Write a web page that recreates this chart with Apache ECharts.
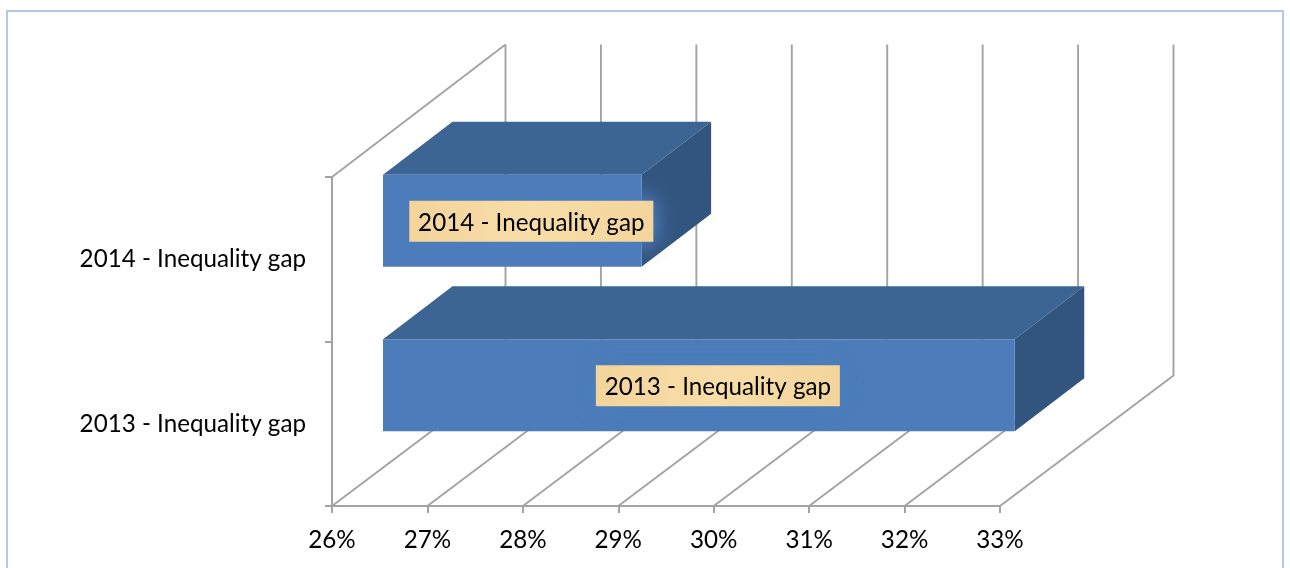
<!DOCTYPE html>
<html>
<head>
<meta charset="utf-8">
<style>html,body{margin:0;padding:0;background:#fff}#c{width:1290px;height:568px}</style>
<script src="https://cdn.jsdelivr.net/npm/echarts@6/dist/echarts.min.js"></script>
</head>
<body>
<div id="c"></div>
<script>
const categories = ['2013 - Inequality gap', '2014 - Inequality gap'];
const gapValues = [32.62, 28.71];
const tickValues = [26, 27, 28, 29, 30, 31, 32, 33];

const FONT = 'Lato, "Open Sans", sans-serif';
const GREY = '#a3a3a3';
const FS = 24.2;
const chart = echarts.init(document.getElementById('c'), null, {renderer: 'canvas'});

function wallRender(params, api) {
  const v = api.value(0);
  const size = api.size([0, 1])[1];
  const base = api.coord([v, 0]);
  const x0 = base[0], y0 = base[1] + size / 2, top = y0 - 2 * size;
  const style = {stroke: GREY, lineWidth: 1.9, fill: null};
  const children = [{
    type: 'polyline', style,
    shape: {points: [[x0, y0], [x0 + 173.5, y0 - 130.5], [x0 + 173.5, top - 132.5]]}
  }];
  if (params.dataIndex === 0) {
    children.push({type: 'line', style, shape: {x1: x0, y1: top, x2: x0 + 173.5, y2: top - 132.5}});
  }
  return {type: 'group', children};
}

function barRender(params, api) {
  const v = api.value(0), cat = api.value(1);
  const band = api.size([0, 1])[1];
  const h = band * 0.56;
  const start = api.coord([26, cat]), end = api.coord([v, cat]);
  const xl = start[0] + 51, xr = end[0] + 51, cy = start[1] - 38.5;
  const yt = cy - h / 2, yb = cy + h / 2, dx = 69.5, dy = -53;
  const lx = (xl + xr) / 2 + 19, ly = cy + 0.5;
  const labelBox = {x: lx - 122, y: ly - 20.5, width: 244, height: 41};
  const glow = {fill: '#4c7dba', shadowBlur: 20, shadowColor: '#4c7dba'};
  return {type: 'group', children: [
    {type: 'polygon', shape: {points: [[xl, yt], [xr, yt], [xr + dx, yt + dy], [xl + dx, yt + dy]]},
     style: {fill: '#3d6593'}},
    {type: 'polygon', shape: {points: [[xr, yt], [xr + dx, yt + dy], [xr + dx, yb + dy], [xr, yb]]},
     style: {fill: '#32557f'}},
    {type: 'rect', shape: {x: xl, y: yt, width: xr - xl, height: h},
     style: {fill: '#4c7dba'}},
    {type: 'rect', shape: labelBox, style: glow},
    {type: 'rect', shape: labelBox, style: glow},
    {type: 'rect', shape: labelBox,
     style: {
       fill: new echarts.graphic.LinearGradient(0, 0, 1, 0, [
         {offset: 0, color: '#f3d49b'}, {offset: 0.5, color: '#f8dda8'}, {offset: 1, color: '#f3d59c'}])
     }},
    {type: 'text', style: {
       text: categories[cat], x: lx, y: ly + 1.5, align: 'center', verticalAlign: 'middle',
       fill: '#000', font: FS + 'px ' + FONT}}
  ]};
}

chart.setOption({
  animation: false,
  backgroundColor: '#fff',
  grid: {left: 332, width: 668, top: 177, height: 329, containLabel: false},
  xAxis: {
    type: 'value', min: 26, max: 33, interval: 1,
    axisLine: {show: true, lineStyle: {color: GREY, width: 2}},
    axisTick: {show: true, length: 7, lineStyle: {color: GREY, width: 2}},
    splitLine: {show: false},
    axisLabel: {formatter: '{value}%', color: '#000', fontFamily: FONT, fontSize: FS, margin: 22}
  },
  yAxis: {
    type: 'category', data: categories,
    axisLine: {show: true, lineStyle: {color: GREY, width: 2}},
    axisTick: {show: true, length: 7, alignWithLabel: false, lineStyle: {color: GREY, width: 2}},
    axisLabel: {color: '#000', fontFamily: FONT, fontSize: FS, margin: 26, padding: [6, 0, 0, 0]}
  },
  graphic: [{
    type: 'rect', silent: true, z: -1,
    shape: {x: 7, y: 11, width: 1276, height: 600},
    style: {fill: 'none', stroke: '#b2c7ea', lineWidth: 2}
  }],
  series: [
    {type: 'custom', name: 'walls', clip: false, z: 1, silent: true,
     coordinateSystem: 'cartesian2d', renderItem: wallRender, encode: {x: 0},
     data: tickValues.map(t => [t])},
    {type: 'custom', name: 'Inequality gap', clip: false, z: 3, silent: true,
     coordinateSystem: 'cartesian2d', renderItem: barRender, encode: {x: 0, y: 1},
     data: gapValues.map((v, i) => [v, i])}
  ]
});
</script>
</body>
</html>
